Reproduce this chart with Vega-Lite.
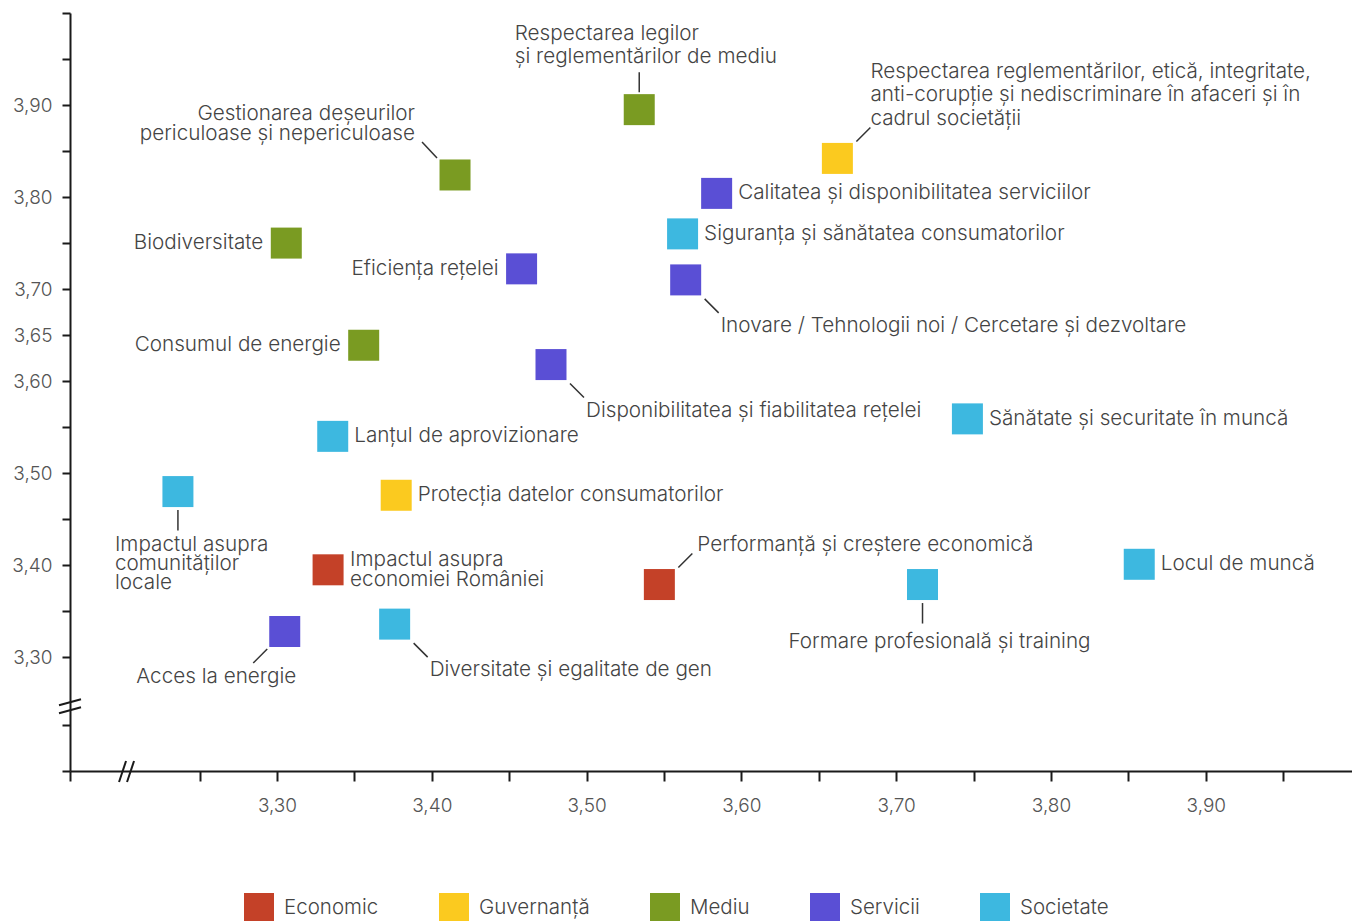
{
  "$schema": "https://vega.github.io/schema/vega-lite/v6.json",
  "width": 1282,
  "height": 758,
  "autosize": {"type": "none"},
  "padding": {"left": 70, "top": 13, "right": 0, "bottom": 150},
  "background": "white",
  "config": {"view": {"stroke": null}, "font": "Inter"},
  "datasets": {
    "topics": [
      {"name": "Respectarea legilor\nși reglementărilor de mediu", "cat": "Mediu", "x": 3.534, "y": 3.895, "pos": "above"},
      {"name": "Gestionarea deșeurilor\npericuloase și nepericuloase", "cat": "Mediu", "x": 3.415, "y": 3.824, "pos": "al"},
      {"name": "Respectarea reglementărilor, etică, integritate,\nanti-corupție și nediscriminare în afaceri și în\ncadrul societății", "cat": "Guvernanță", "x": 3.662, "y": 3.842, "pos": "ar3"},
      {"name": "Calitatea și disponibilitatea serviciilor", "cat": "Servicii", "x": 3.584, "y": 3.804, "pos": "right"},
      {"name": "Siguranța și sănătatea consumatorilor", "cat": "Societate", "x": 3.562, "y": 3.760, "pos": "right"},
      {"name": "Biodiversitate", "cat": "Mediu", "x": 3.306, "y": 3.750, "pos": "left"},
      {"name": "Eficiența rețelei", "cat": "Servicii", "x": 3.458, "y": 3.722, "pos": "left"},
      {"name": "Inovare / Tehnologii noi / Cercetare și dezvoltare", "cat": "Servicii", "x": 3.564, "y": 3.710, "pos": "br"},
      {"name": "Consumul de energie", "cat": "Mediu", "x": 3.356, "y": 3.639, "pos": "left"},
      {"name": "Disponibilitatea și fiabilitatea rețelei", "cat": "Servicii", "x": 3.477, "y": 3.618, "pos": "br"},
      {"name": "Sănătate și securitate în muncă", "cat": "Societate", "x": 3.746, "y": 3.559, "pos": "right"},
      {"name": "Lanțul de aprovizionare", "cat": "Societate", "x": 3.336, "y": 3.540, "pos": "right"},
      {"name": "Impactul asupra\ncomunităților\nlocale", "cat": "Societate", "x": 3.236, "y": 3.480, "pos": "below_l"},
      {"name": "Protecția datelor consumatorilor", "cat": "Guvernanță", "x": 3.377, "y": 3.476, "pos": "right"},
      {"name": "Impactul asupra\neconomiei României", "cat": "Economic", "x": 3.333, "y": 3.395, "pos": "right2"},
      {"name": "Performanță și creștere economică", "cat": "Economic", "x": 3.547, "y": 3.379, "pos": "ar"},
      {"name": "Locul de muncă", "cat": "Societate", "x": 3.857, "y": 3.401, "pos": "right"},
      {"name": "Formare profesională și training", "cat": "Societate", "x": 3.717, "y": 3.379, "pos": "below_c"},
      {"name": "Acces la energie", "cat": "Servicii", "x": 3.305, "y": 3.328, "pos": "bl"},
      {"name": "Diversitate și egalitate de gen", "cat": "Societate", "x": 3.376, "y": 3.336, "pos": "br"}
    ],
    "breaks": [
      {"axis": "y", "x": 3.16628, "y": 3.24674},
      {"axis": "x", "x": 3.2028, "y": 3.1764}
    ]
  },
  "data": {"name": "topics"},
  "encoding": {
    "x": {
      "field": "x", "type": "quantitative",
      "scale": {"domain": [3.16628, 3.99444], "nice": false, "zero": false},
      "axis": {
        "title": null, "grid": false,
        "values": [3.16628, 3.25, 3.30, 3.35, 3.40, 3.45, 3.50, 3.55, 3.60, 3.65, 3.70, 3.75, 3.80, 3.85, 3.90, 3.95],
        "labelExpr": "indexof(['3.30','3.40','3.50','3.60','3.70','3.80','3.90'], format(datum.value, '.2f')) >= 0 ? replace(format(datum.value, '.2f'), '.', ',') : ''",
        "labelOverlap": false,
        "domainColor": "#1a1a1a", "domainWidth": 2,
        "tickColor": "#1a1a1a", "tickWidth": 2, "tickSize": 10,
        "labelFont": "Inter", "labelFontSize": 19, "labelFontWeight": 300, "labelColor": "#555555", "labelPadding": 15, "labelBaseline": "top"
      }
    },
    "y": {
      "field": "y", "type": "quantitative",
      "scale": {"domain": [3.1764, 4.0], "nice": false, "zero": false},
      "axis": {
        "title": null, "grid": false,
        "values": [3.1764, 3.2264, 3.30, 3.35, 3.40, 3.45, 3.50, 3.55, 3.60, 3.65, 3.70, 3.75, 3.80, 3.85, 3.90, 3.95, 4.0],
        "labelExpr": "indexof(['3.30','3.40','3.50','3.60','3.65','3.70','3.80','3.90'], format(datum.value, '.2f')) >= 0 ? replace(format(datum.value, '.2f'), '.', ',') : ''",
        "labelOverlap": false,
        "domainColor": "#1a1a1a", "domainWidth": 2,
        "tickColor": "#1a1a1a", "tickWidth": 2, "tickSize": 8,
        "labelFont": "Inter", "labelFontSize": 19, "labelFontWeight": 300, "labelColor": "#555555", "labelPadding": 10
      }
    }
  },
  "layer": [
    {
      "mark": {"type": "square", "size": 961, "opacity": 1, "strokeWidth": 0},
      "encoding": {
        "color": {
          "field": "cat", "type": "nominal",
          "scale": {"domain": ["Economic", "Guvernanță", "Mediu", "Servicii", "Societate"],
                    "range": ["#C44128", "#FBCA1F", "#7A9B22", "#5A4FD5", "#3DB8E0"]},
          "legend": {
            "orient": "none", "legendX": 174, "legendY": 880, "direction": "horizontal",
            "title": null, "symbolType": "square", "symbolSize": 900, "symbolStrokeWidth": 0,
            "symbolOpacity": 1, "labelFont": "Inter", "labelFontSize": 20.5, "labelFontWeight": 300, "labelColor": "#444444",
            "labelOffset": 10, "columnPadding": 60, "padding": 0
          }
        }
      }
    },
    {
      "transform": [{"filter": "datum.pos === 'right'"}],
      "mark": {"type": "text", "align": "left", "baseline": "middle", "dx": 21.5, "fontSize": 20.7, "fontWeight": 300, "color": "#444444", "font": "Inter"},
      "encoding": {"text": {"field": "name"}}
    },
    {
      "transform": [{"filter": "datum.pos === 'right2'"}],
      "mark": {"type": "text", "align": "left", "baseline": "middle", "dx": 22, "dy": -10, "fontSize": 20.7, "fontWeight": 300, "lineHeight": 20, "lineBreak": "\n", "color": "#444444", "font": "Inter"},
      "encoding": {"text": {"field": "name"}}
    },
    {
      "transform": [{"filter": "datum.pos === 'left'"}],
      "mark": {"type": "text", "align": "right", "baseline": "middle", "dx": -23, "fontSize": 20.7, "fontWeight": 300, "color": "#444444", "font": "Inter"},
      "encoding": {"text": {"field": "name"}}
    },
    {
      "transform": [{"filter": "datum.pos === 'above'"}],
      "mark": {"type": "text", "align": "left", "baseline": "alphabetic", "dx": -124.5, "dy": -70, "fontSize": 20.7, "fontWeight": 300, "lineHeight": 23, "lineBreak": "\n", "color": "#444444", "font": "Inter"},
      "encoding": {"text": {"field": "name"}}
    },
    {
      "transform": [{"filter": "datum.pos === 'above'"}],
      "mark": {"type": "rule", "yOffset": -37.5, "y2Offset": -17.5, "color": "#333333", "strokeWidth": 1.5},
      "encoding": {"x2": {"field": "x"}, "y2": {"field": "y"}}
    },
    {
      "transform": [{"filter": "datum.pos === 'al'"}],
      "mark": {"type": "text", "align": "right", "baseline": "alphabetic", "dx": -40, "dy": -55, "fontSize": 20.7, "fontWeight": 300, "lineHeight": 20, "lineBreak": "\n", "color": "#444444", "font": "Inter"},
      "encoding": {"text": {"field": "name"}}
    },
    {
      "transform": [{"filter": "datum.pos === 'al'"}],
      "mark": {"type": "rule", "xOffset": -33, "yOffset": -33, "x2Offset": -18, "y2Offset": -17, "color": "#333333", "strokeWidth": 1.5},
      "encoding": {"x2": {"field": "x"}, "y2": {"field": "y"}}
    },
    {
      "transform": [{"filter": "datum.pos === 'ar3'"}],
      "mark": {"type": "text", "align": "left", "baseline": "alphabetic", "dx": 33, "dy": -80.5, "fontSize": 20.7, "fontWeight": 300, "lineHeight": 23.5, "lineBreak": "\n", "color": "#444444", "font": "Inter"},
      "encoding": {"text": {"field": "name"}}
    },
    {
      "transform": [{"filter": "datum.pos === 'ar'"}],
      "mark": {"type": "text", "align": "left", "baseline": "alphabetic", "dx": 38, "dy": -34, "fontSize": 20.7, "fontWeight": 300, "color": "#444444", "font": "Inter"},
      "encoding": {"text": {"field": "name"}}
    },
    {
      "transform": [{"filter": "datum.pos === 'ar' || datum.pos === 'ar3'"}],
      "mark": {"type": "rule", "xOffset": 19, "yOffset": -17, "x2Offset": 33, "y2Offset": -31, "color": "#333333", "strokeWidth": 1.5},
      "encoding": {"x2": {"field": "x"}, "y2": {"field": "y"}}
    },
    {
      "transform": [{"filter": "datum.pos === 'br'"}],
      "mark": {"type": "text", "align": "left", "baseline": "middle", "dx": 35, "dy": 46, "fontSize": 20.7, "fontWeight": 300, "color": "#444444", "font": "Inter"},
      "encoding": {"text": {"field": "name"}}
    },
    {
      "transform": [{"filter": "datum.pos === 'br'"}],
      "mark": {"type": "rule", "xOffset": 19, "yOffset": 19, "x2Offset": 33, "y2Offset": 33, "color": "#333333", "strokeWidth": 1.5},
      "encoding": {"x2": {"field": "x"}, "y2": {"field": "y"}}
    },
    {
      "transform": [{"filter": "datum.pos === 'bl'"}],
      "mark": {"type": "text", "align": "right", "baseline": "middle", "dx": 11.5, "dy": 45.5, "fontSize": 20.7, "fontWeight": 300, "color": "#444444", "font": "Inter"},
      "encoding": {"text": {"field": "name"}}
    },
    {
      "transform": [{"filter": "datum.pos === 'bl'"}],
      "mark": {"type": "rule", "xOffset": -17.5, "yOffset": 17.5, "x2Offset": -31.5, "y2Offset": 31.5, "color": "#333333", "strokeWidth": 1.5},
      "encoding": {"x2": {"field": "x"}, "y2": {"field": "y"}}
    },
    {
      "transform": [{"filter": "datum.pos === 'below_l'"}],
      "mark": {"type": "text", "align": "left", "baseline": "top", "dx": -63, "dy": 43, "fontSize": 20.7, "fontWeight": 300, "lineHeight": 19, "lineBreak": "\n", "color": "#444444", "font": "Inter"},
      "encoding": {"text": {"field": "name"}}
    },
    {
      "transform": [{"filter": "datum.pos === 'below_l' || datum.pos === 'below_c'"}],
      "mark": {"type": "rule", "yOffset": 18.5, "y2Offset": 39, "color": "#333333", "strokeWidth": 1.5},
      "encoding": {"x2": {"field": "x"}, "y2": {"field": "y"}}
    },
    {
      "transform": [{"filter": "datum.pos === 'below_c'"}],
      "mark": {"type": "text", "align": "center", "baseline": "middle", "dx": 17, "dy": 57, "fontSize": 20.7, "fontWeight": 300, "color": "#444444", "font": "Inter"},
      "encoding": {"text": {"field": "name"}}
    },
    {
      "data": {"name": "breaks"},
      "transform": [{"filter": "datum.axis === 'y'"}],
      "mark": {"type": "rule", "xOffset": -11, "yOffset": -1, "x2Offset": 11, "y2Offset": -7, "color": "#1a1a1a", "strokeWidth": 2},
      "encoding": {"x2": {"field": "x"}, "y2": {"field": "y"}}
    },
    {
      "data": {"name": "breaks"},
      "transform": [{"filter": "datum.axis === 'y'"}],
      "mark": {"type": "rule", "xOffset": -11, "yOffset": 7, "x2Offset": 11, "y2Offset": 1, "color": "#1a1a1a", "strokeWidth": 2},
      "encoding": {"x2": {"field": "x"}, "y2": {"field": "y"}}
    },
    {
      "data": {"name": "breaks"},
      "transform": [{"filter": "datum.axis === 'x'"}],
      "mark": {"type": "rule", "xOffset": -7.5, "yOffset": 11, "x2Offset": -0.5, "y2Offset": -10, "color": "#1a1a1a", "strokeWidth": 2},
      "encoding": {"x2": {"field": "x"}, "y2": {"field": "y"}}
    },
    {
      "data": {"name": "breaks"},
      "transform": [{"filter": "datum.axis === 'x'"}],
      "mark": {"type": "rule", "xOffset": 0.5, "yOffset": 11, "x2Offset": 7.5, "y2Offset": -10, "color": "#1a1a1a", "strokeWidth": 2},
      "encoding": {"x2": {"field": "x"}, "y2": {"field": "y"}}
    }
  ]
}
